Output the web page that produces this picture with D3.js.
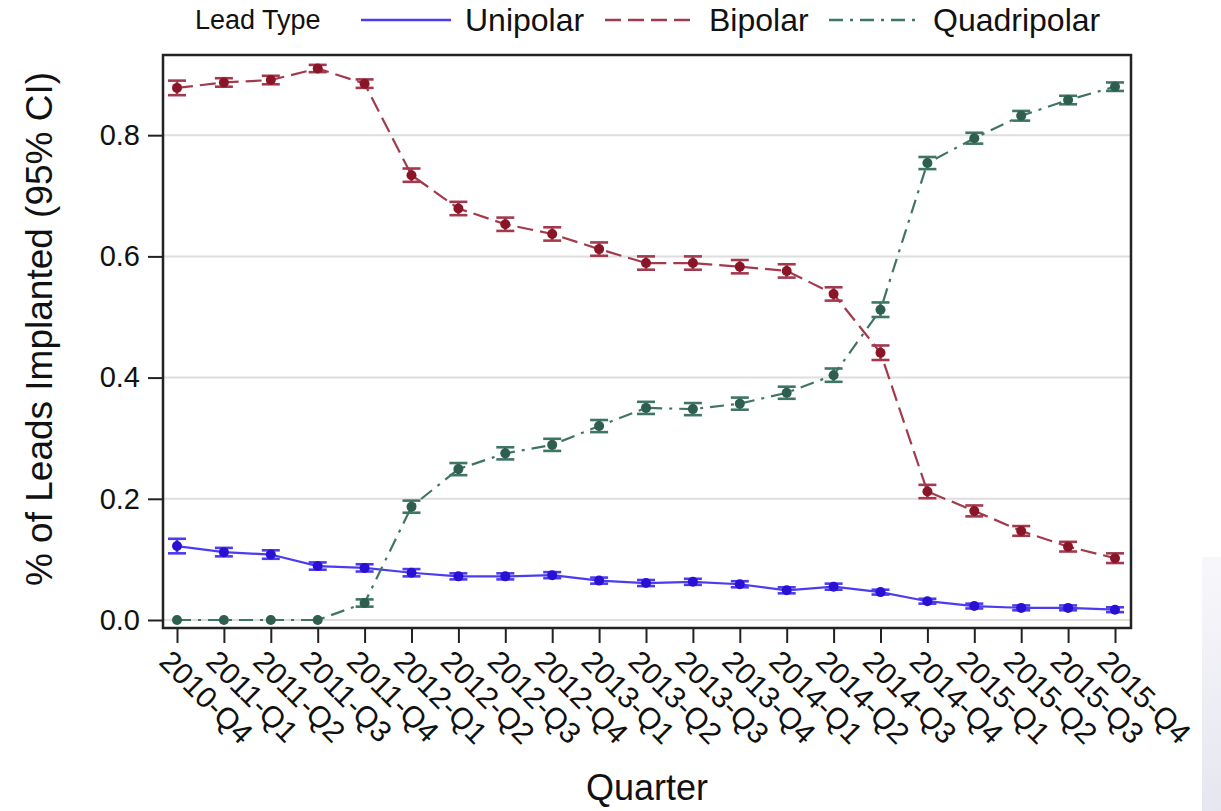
<!DOCTYPE html>
<html>
<head>
<meta charset="utf-8">
<script src="https://cdn.jsdelivr.net/npm/d3@7"></script>
<style>
  body { margin: 0; background: #fff; }
  text { font-family: Arial, "Liberation Sans", sans-serif; fill: #111; }
</style>
</head>
<body>
<div id="chart"></div>
<script>
// quarters on the x axis
var quarters = ["2010-Q4","2011-Q1","2011-Q2","2011-Q3","2011-Q4","2012-Q1","2012-Q2","2012-Q3","2012-Q4",
  "2013-Q1","2013-Q2","2013-Q3","2013-Q4","2014-Q1","2014-Q2","2014-Q3","2014-Q4","2015-Q1","2015-Q2","2015-Q3","2015-Q4"];

// share of leads implanted, per lead type
var unipolar    = [0.122,0.112,0.108,0.089,0.086,0.078,0.072,0.072,0.074,0.065,0.061,0.063,0.059,0.049,0.055,0.046,0.031,0.023,0.020,0.020,0.017];
var bipolar     = [0.878,0.887,0.891,0.910,0.885,0.734,0.679,0.653,0.637,0.612,0.589,0.589,0.583,0.576,0.538,0.441,0.212,0.180,0.147,0.121,0.102];
var quadripolar = [0.000,0.000,0.000,0.000,0.028,0.187,0.249,0.275,0.289,0.320,0.350,0.348,0.357,0.375,0.404,0.512,0.754,0.795,0.832,0.858,0.880];

// half width of the 95% CI
var unipolarCI    = [0.012,0.007,0.007,0.006,0.006,0.006,0.005,0.005,0.005,0.005,0.005,0.005,0.005,0.005,0.005,0.004,0.004,0.004,0.004,0.004,0.004];
var bipolarCI     = [0.012,0.007,0.007,0.006,0.007,0.011,0.011,0.011,0.011,0.011,0.011,0.011,0.011,0.011,0.011,0.012,0.011,0.009,0.008,0.008,0.008];
var quadripolarCI = [0.000,0.000,0.000,0.000,0.006,0.010,0.010,0.010,0.010,0.010,0.010,0.010,0.010,0.010,0.011,0.012,0.010,0.009,0.008,0.007,0.007];

var yTicks = [0, 0.2, 0.4, 0.6, 0.8];

var series = [
  {name: "Unipolar",    values: unipolar,    ci: unipolarCI,    line: "#4b3cf0", mark: "#2a10d2", dash: null},
  {name: "Bipolar",     values: bipolar,     ci: bipolarCI,     line: "#a23a4e", mark: "#8a1526", dash: "16,7"},
  {name: "Quadripolar", values: quadripolar, ci: quadripolarCI, line: "#3f7565", mark: "#2d5e4f", dash: "14,7,3,7"}
];

var W = 1221, H = 811;
var margin = {top: 55, right: 90, bottom: 183, left: 163};
var width = W - margin.left - margin.right,
    height = H - margin.top - margin.bottom;

var svg = d3.select("#chart").append("svg")
    .attr("width", W)
    .attr("height", H);

// faint grey panel at the right edge of the screenshot
var grad = svg.append("defs").append("linearGradient")
    .attr("id", "edge").attr("x1", 0).attr("y1", 0).attr("x2", 0).attr("y2", 1);
grad.append("stop").attr("offset", 0).attr("stop-color", "#f7f7fb");
grad.append("stop").attr("offset", 1).attr("stop-color", "#e6e6f0");
svg.append("rect").attr("x", 1202).attr("y", 557).attr("width", 19).attr("height", 254)
    .attr("fill", "url(#edge)");

var g = svg.append("g")
    .attr("transform", "translate(" + margin.left + "," + margin.top + ")");

var xScale = d3.scalePoint()
    .domain(quarters)
    .range([14, width - 16]);

var yScale = d3.scaleLinear()
    .domain([-0.0132, 0.9323])
    .range([height, 0]);

// grid lines
g.append("g").selectAll("line")
    .data(yTicks).join("line")
    .attr("x1", 0).attr("x2", width)
    .attr("y1", function(d) { return yScale(d); })
    .attr("y2", function(d) { return yScale(d); })
    .attr("stroke", "#dedede")
    .attr("stroke-width", 2);

// y axis
var yAxis = g.append("g")
    .call(d3.axisLeft(yScale).tickValues(yTicks).tickFormat(d3.format(".1f")).tickSize(15).tickPadding(8));
yAxis.select(".domain").remove();
yAxis.selectAll(".tick line").attr("stroke", "#222").attr("stroke-width", 2);
yAxis.selectAll(".tick text").style("font-size", "29px").attr("fill", "#111");

// x axis
var xAxis = g.append("g")
    .attr("transform", "translate(0," + height + ")")
    .call(d3.axisBottom(xScale).tickSize(15).tickFormat(""));
xAxis.select(".domain").remove();
xAxis.selectAll(".tick line").attr("stroke", "#222").attr("stroke-width", 2);

g.append("g").selectAll("text")
    .data(quarters).join("text")
    .attr("transform", function(d) { return "translate(" + (xScale(d) - 4) + "," + (height + 20) + ") rotate(45)"; })
    .attr("dy", "0.72em")
    .style("font-size", "30px")
    .text(function(d) { return d; });

// lines, error bars, markers
var lineGen = d3.line()
    .x(function(d, i) { return xScale(quarters[i]); })
    .y(function(d) { return yScale(d); });

series.forEach(function(s) {
  var sg = g.append("g");
  sg.append("path")
      .datum(s.values)
      .attr("fill", "none")
      .attr("stroke", s.line)
      .attr("stroke-width", 2.2)
      .attr("stroke-dasharray", s.dash)
      .attr("d", lineGen);

  var bars = sg.append("g").selectAll("g")
      .data(s.values.map(function(v, i) { return {q: quarters[i], v: v, ci: s.ci[i]}; })
        .filter(function(d) { return d.ci > 0; }))
      .join("g")
      .attr("stroke", s.line)
      .attr("stroke-width", 2.6);
  bars.append("line")
      .attr("x1", function(d) { return xScale(d.q); })
      .attr("x2", function(d) { return xScale(d.q); })
      .attr("y1", function(d) { return yScale(d.v - d.ci); })
      .attr("y2", function(d) { return yScale(d.v + d.ci); });
  [-1, 1].forEach(function(sign) {
    bars.append("line")
        .attr("x1", function(d) { return xScale(d.q) - 9; })
        .attr("x2", function(d) { return xScale(d.q) + 9; })
        .attr("y1", function(d) { return yScale(d.v + sign * d.ci); })
        .attr("y2", function(d) { return yScale(d.v + sign * d.ci); });
  });

  sg.append("g").selectAll("circle")
      .data(s.values).join("circle")
      .attr("cx", function(d, i) { return xScale(quarters[i]); })
      .attr("cy", function(d) { return yScale(d); })
      .attr("r", 5)
      .attr("fill", s.mark);
});

// frame
g.append("rect")
    .attr("x", 0).attr("y", 0)
    .attr("width", width).attr("height", height)
    .attr("fill", "none")
    .attr("stroke", "#222")
    .attr("stroke-width", 2.5);

// axis titles
svg.append("text")
    .attr("transform", "translate(52," + (margin.top + 274) + ") rotate(-90)")
    .attr("text-anchor", "middle")
    .style("font-size", "37px")
    .text("% of Leads Implanted (95% CI)");

svg.append("text")
    .attr("x", 647).attr("y", 800)
    .attr("text-anchor", "middle")
    .style("font-size", "36px")
    .text("Quarter");

// legend
var legend = svg.append("g").attr("transform", "translate(0,20)");
legend.append("text")
    .attr("x", 195).attr("dy", "0.35em")
    .style("font-size", "27px")
    .text("Lead Type");
var legendX = [361, 605, 829];
series.forEach(function(s, i) {
  legend.append("line")
      .attr("x1", legendX[i]).attr("x2", legendX[i] + 90)
      .attr("stroke", s.line)
      .attr("stroke-width", 2.5)
      .attr("stroke-dasharray", s.dash);
  legend.append("text")
      .attr("x", legendX[i] + 104).attr("dy", "0.35em")
      .style("font-size", "32px")
      .text(s.name);
});
</script>
</body>
</html>
